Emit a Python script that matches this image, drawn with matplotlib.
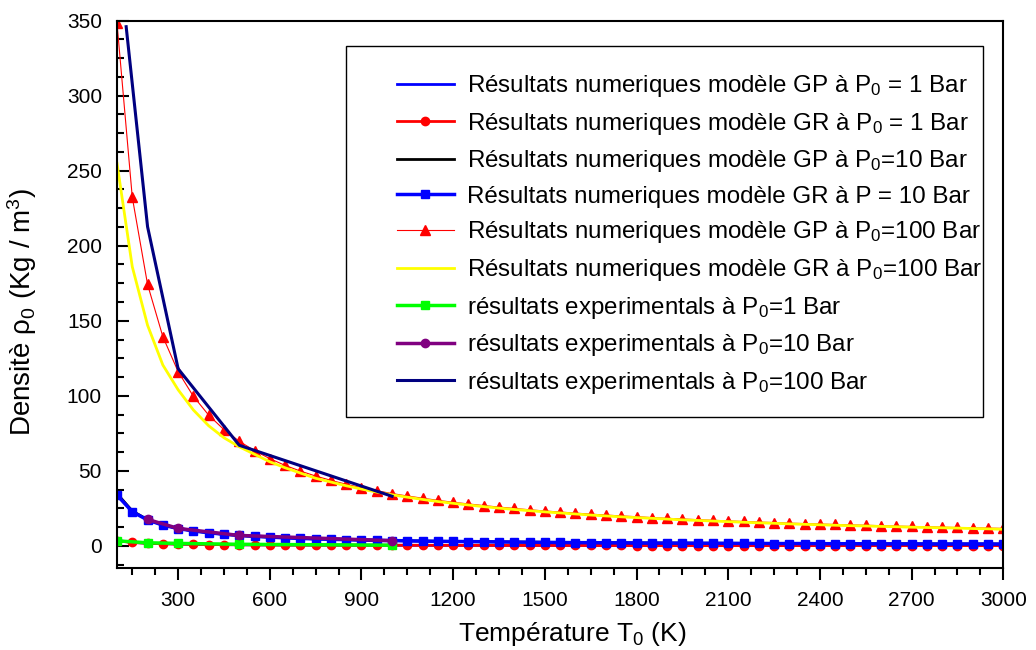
import matplotlib
matplotlib.use("Agg")
import matplotlib.pyplot as plt
from matplotlib.ticker import MultipleLocator
from matplotlib.patches import Rectangle

plt.rcParams['font.family'] = ['Liberation Sans', 'DejaVu Sans']
plt.rcParams['mathtext.fontset'] = 'custom'
plt.rcParams['mathtext.rm'] = 'Liberation Sans'
plt.rcParams['mathtext.it'] = 'Liberation Sans:italic'
plt.rcParams['mathtext.bf'] = 'Liberation Sans:bold'

# ---------------- data ----------------
T_num = [100, 150, 200, 250, 300, 350, 400, 450, 500, 550, 600, 650, 700, 750, 800,
         850, 900, 950, 1000, 1050, 1100, 1150, 1200, 1250, 1300, 1350, 1400, 1450,
         1500, 1550, 1600, 1650, 1700, 1750, 1800, 1850, 1900, 1950, 2000, 2050,
         2100, 2150, 2200, 2250, 2300, 2350, 2400, 2450, 2500, 2550, 2600, 2650,
         2700, 2750, 2800, 2850, 2900, 2950, 3000]

gp_1bar = [3.5, 2.3, 1.7, 1.4, 1.2, 1.0, 0.87, 0.77, 0.70, 0.63, 0.58, 0.54, 0.50, 0.46,
           0.44, 0.41, 0.39, 0.37, 0.35, 0.33, 0.32, 0.30, 0.29, 0.28, 0.27, 0.26, 0.25,
           0.24, 0.23, 0.22, 0.22, 0.21, 0.20, 0.20, 0.19, 0.19, 0.18, 0.18, 0.17, 0.17,
           0.17, 0.16, 0.16, 0.15, 0.15, 0.15, 0.15, 0.14, 0.14, 0.14, 0.13, 0.13, 0.13,
           0.13, 0.12, 0.12, 0.12, 0.12, 0.12]

gr_1bar = [3.4, 2.2, 1.7, 1.4, 1.1, 1.0, 0.86, 0.76, 0.69, 0.63, 0.58, 0.53, 0.49, 0.46,
           0.43, 0.41, 0.38, 0.36, 0.35, 0.33, 0.31, 0.30, 0.29, 0.28, 0.27, 0.26, 0.25,
           0.24, 0.23, 0.22, 0.21, 0.21, 0.20, 0.20, 0.19, 0.19, 0.18, 0.18, 0.17, 0.17,
           0.16, 0.16, 0.16, 0.15, 0.15, 0.15, 0.14, 0.14, 0.14, 0.14, 0.13, 0.13, 0.13,
           0.13, 0.12, 0.12, 0.12, 0.12, 0.11]

gp_10bar = [34.8, 23.2, 17.4, 13.9, 11.6, 10.0, 8.7, 7.7, 7.0, 6.3, 5.8, 5.4, 5.0, 4.6,
            4.4, 4.1, 3.9, 3.7, 3.5, 3.3, 3.2, 3.0, 2.9, 2.8, 2.7, 2.6, 2.5, 2.4, 2.3,
            2.2, 2.2, 2.1, 2.0, 2.0, 1.9, 1.9, 1.8, 1.8, 1.7, 1.7, 1.7, 1.6, 1.6, 1.5,
            1.5, 1.5, 1.5, 1.4, 1.4, 1.4, 1.3, 1.3, 1.3, 1.3, 1.2, 1.2, 1.2, 1.2, 1.2]

gr_10bar = [33.8, 22.7, 17.2, 13.8, 11.5, 9.9, 8.7, 7.7, 6.9, 6.3, 5.8, 5.3, 4.9, 4.6,
            4.3, 4.1, 3.8, 3.6, 3.5, 3.3, 3.1, 3.0, 2.9, 2.8, 2.7, 2.6, 2.5, 2.4, 2.3,
            2.2, 2.1, 2.1, 2.0, 2.0, 1.9, 1.8, 1.8, 1.8, 1.7, 1.7, 1.6, 1.6, 1.6, 1.5,
            1.5, 1.5, 1.4, 1.4, 1.4, 1.3, 1.3, 1.3, 1.3, 1.2, 1.2, 1.2, 1.2, 1.2, 1.1]

gp_100bar = [348.4, 232.3, 174.2, 139.4, 116.1, 99.6, 87.1, 77.4, 69.7, 63.4, 58.1, 53.6,
             49.8, 46.5, 43.6, 41.0, 38.7, 36.7, 34.8, 33.2, 31.7, 30.3, 29.0, 27.9, 26.8,
             25.8, 24.9, 24.0, 23.2, 22.5, 21.8, 21.1, 20.5, 19.9, 19.4, 18.8, 18.3, 17.9,
             17.4, 17.0, 16.6, 16.2, 15.8, 15.5, 15.1, 14.8, 14.5, 14.2, 13.9, 13.7, 13.4,
             13.1, 12.9, 12.7, 12.4, 12.2, 12.0, 11.8, 11.6]

gr_100bar = [255.0, 186.0, 147.0, 120.5, 104.0, 90.5, 80.0, 72.0, 66.0, 61.0, 56.0, 52.0,
             48.5, 45.0, 42.5, 40.0, 37.8, 35.8, 34.0, 32.4, 30.9, 29.5, 28.3, 27.2, 26.1,
             25.1, 24.2, 23.4, 22.6, 21.9, 21.2, 20.5, 19.9, 19.3, 18.8, 18.3, 17.8, 17.3,
             16.9, 16.5, 16.1, 15.7, 15.3, 15.0, 14.6, 14.3, 14.0, 13.7, 13.4, 13.2, 12.9,
             12.7, 12.4, 12.2, 12.0, 11.8, 11.5, 11.3, 11.0]

T_exp1 = [100, 200, 300, 500, 1000]
exp_1bar = [3.3, 2.0, 1.6, 1.0, 0.4]

T_exp10 = [200, 300, 500, 1000]
exp_10bar = [17.6, 11.6, 6.9, 3.4]

T_exp100 = [130, 200, 300, 500, 1000]
exp_100bar = [346.0, 212.7, 118.0, 67.0, 33.0]

labels = [
    r"Résultats numeriques modèle GP à P$_\mathregular{0}$ = 1 Bar",
    r"Résultats numeriques modèle GR à P$_\mathregular{0}$ = 1 Bar",
    r"Résultats numeriques modèle GP à P$_\mathregular{0}$=10 Bar",
    r"Résultats numeriques modèle GR à P = 10 Bar",
    r"Résultats numeriques modèle GP à P$_\mathregular{0}$=100 Bar",
    r"Résultats numeriques modèle GR à P$_\mathregular{0}$=100 Bar",
    r"résultats experimentals à P$_\mathregular{0}$=1 Bar",
    r"résultats experimentals à P$_\mathregular{0}$=10 Bar",
    r"résultats experimentals à P$_\mathregular{0}$=100 Bar",
]

# ---------------- figure ----------------
W, H = 1036, 650
fig = plt.figure(figsize=(W / 100, H / 100), dpi=100)
ax = fig.add_axes([117 / W, 1 - 568.3 / H, (1003.3 - 117) / W, (568.3 - 20.7) / H])

ax.plot(T_num, gp_1bar, color='#0000FF', lw=2.0, label=labels[0])
ax.plot(T_num, gr_1bar, color='#FF0000', lw=2.0, marker='o', ms=6, label=labels[1])
ax.plot(T_num, gp_10bar, color='#000000', lw=2.0, label=labels[2])
ax.plot(T_num, gr_10bar, color='#0000FF', lw=2.5, marker='s', ms=5.5, label=labels[3])
ax.plot(T_num, gp_100bar, color='#FF0000', lw=0.8, marker='^', ms=6.5, label=labels[4])
ax.plot(T_num, gr_100bar, color='#FFFF00', lw=2.0, label=labels[5])
ax.plot(T_exp1, exp_1bar, color='#00FF00', lw=2.5, marker='s', ms=5.5, label=labels[6])
ax.plot(T_exp10, exp_10bar, color='#800080', lw=2.5, marker='o', ms=6, label=labels[7])
ax.plot(T_exp100, exp_100bar, color='#000080', lw=2.2, label=labels[8])

ax.set_xlim(100, 3000)
ax.set_ylim(-15, 350)
ax.xaxis.set_major_locator(MultipleLocator(300))
ax.xaxis.set_minor_locator(MultipleLocator(75))
ax.yaxis.set_major_locator(MultipleLocator(50))
ax.yaxis.set_minor_locator(MultipleLocator(12.5))

for s in ax.spines.values():
    s.set_linewidth(1.5)
ax.tick_params(axis='x', which='both', direction='out', top=False, labelsize=15, width=1.5)
ax.tick_params(axis='y', which='both', direction='in', right=False, labelsize=15, width=1.5)
ax.tick_params(which='major', length=8.5)
ax.tick_params(which='minor', length=4.8)
ax.tick_params(axis='x', pad=7.5)
ax.tick_params(axis='y', pad=10.8)

ax.set_xlabel(r"Température T$_\mathregular{0}$ (K)", fontsize=19)
ax.xaxis.set_label_coords((572 - 117) / 886.3, (568.3 - 620) / 547.6)

ax.set_ylabel(r"Densitè ρ$_\mathregular{0}$ (Kg / m$^\mathregular{3}$)", fontsize=20)
ax.yaxis.set_label_coords((39 - 117) / 886.3, (568.3 - 312) / 547.6)

# legend frame drawn as a rectangle at the reference position
fig.patches.append(Rectangle((346 / W, 1 - 417 / H), (983 - 346) / W, (417 - 46) / H,
                             transform=fig.transFigure, fill=False, edgecolor='black',
                             linewidth=1.0, zorder=5))

leg = ax.legend(loc='upper left', bbox_to_anchor=(397 / W, 1 - 73 / H),
                bbox_transform=fig.transFigure,
                prop={'size': 17.4}, frameon=False,
                numpoints=1, handlelength=2.35, handletextpad=0.55, labelspacing=0.48,
                borderpad=0, borderaxespad=0)

fig.savefig("out.png", dpi=100)
